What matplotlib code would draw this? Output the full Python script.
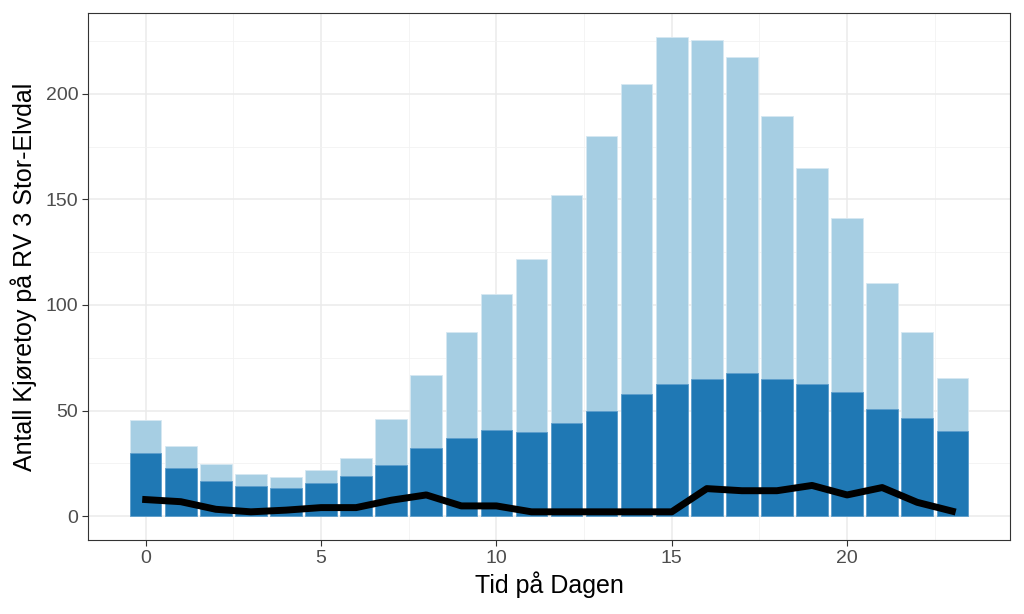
import numpy as np
import matplotlib.pyplot as plt

plt.rcParams['font.family'] = ['Liberation Sans', 'DejaVu Sans']

hours = np.arange(24)
total = [45.5, 33, 24.6, 20, 18.5, 21.8, 27.5, 46, 66.8, 87, 105, 122, 152, 180,
         204.7, 227, 225.5, 217.5, 189.6, 165, 141.4, 110.5, 87, 65.3]
dark = [29.8, 22.7, 16.5, 14.2, 13.2, 15.6, 18.9, 24.1, 32.2, 36.9, 40.7, 39.7, 44,
        49.6, 57.7, 62.4, 64.8, 67.6, 64.8, 62.4, 58.6, 50.6, 46.3, 40.2]
line = [7.8, 6.8, 3.2, 2, 2.8, 4, 4, 7.5, 10, 4.8, 4.8, 2, 2, 2, 2, 2, 13, 12, 12,
        14.5, 10, 13.5, 6.5, 2.3]

fig = plt.figure(figsize=(10.24, 6.14), dpi=100)
ax = fig.add_axes([88/1024, 74/614, 922/1024, 527/614])

ax.bar(hours, total, width=0.9, color='#A6CEE3', edgecolor='#D6E8F2', linewidth=0.6, zorder=2)
ax.bar(hours, dark, width=0.9, color='#1F78B4', edgecolor='#5E9ECB', linewidth=0.6, zorder=3)
ax.plot(hours, line, color='black', linewidth=5, zorder=4)

ax.set_xlim(-1.645, 24.645)
ax.set_ylim(-11.35, 238.35)
ax.set_xticks([0, 5, 10, 15, 20])
ax.set_yticks([0, 50, 100, 150, 200])
ax.set_xticks([2.5, 7.5, 12.5, 17.5, 22.5], minor=True)
ax.set_yticks([25, 75, 125, 175, 225], minor=True)
ax.grid(which='major', color='#EBEBEB', linewidth=1.1, zorder=0)
ax.grid(which='minor', color='#F2F2F2', linewidth=0.6, zorder=0)
ax.set_axisbelow(True)
ax.tick_params(which='minor', length=0)
ax.tick_params(which='major', length=4.5, color='#333333', labelsize=14, labelcolor='#4D4D4D',
               width=0.8, pad=2.5)
for s in ax.spines.values():
    s.set_color('#333333')
    s.set_linewidth(0.8)

ax.set_xlabel('Tid på Dagen', fontsize=18, labelpad=3)
ax.set_ylabel('Antall Kjøretoy på RV 3 Stor-Elvdal', fontsize=18, labelpad=6)

fig.savefig('out.png', dpi=100)
